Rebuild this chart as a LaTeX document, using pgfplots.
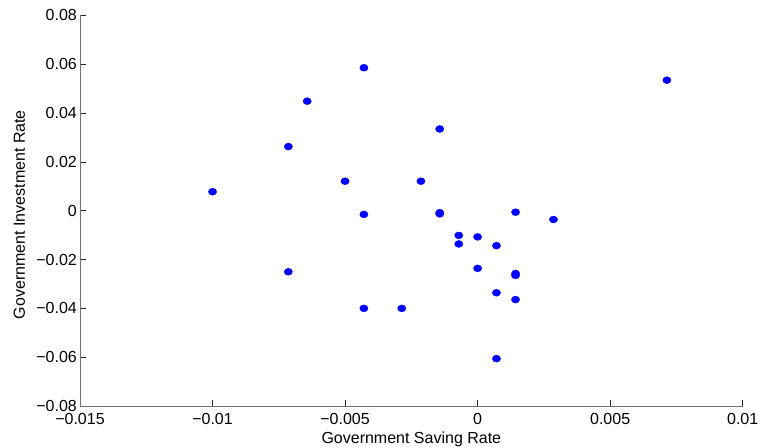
\documentclass[border=0pt]{standalone}
\usepackage{fontspec}
\setmainfont{Liberation Sans}
\usepackage{pgfplots}
\pgfplotsset{compat=1.18}

\begin{document}
\begin{tikzpicture}[x=1pt,y=1pt]
\begin{axis}[
  at={(0,0)}, anchor=south west,
  scale only axis,
  width=662.7pt, height=390.5pt,
  xmin=-0.015, xmax=0.01,
  ymin=-0.08, ymax=0.08,
  scaled ticks=false,
  axis lines*=left,
  axis line style={draw=black!55, line width=0.9pt},
  tick align=inside,
  major tick length=6pt,
  tick style={draw=black!85, line width=0.8pt},
  xtick={-0.015,-0.01,-0.005,0,0.005,0.01},
  xticklabels={−0.015,−0.01,−0.005,0,0.005,0.01},
  ytick={-0.08,-0.06,-0.04,-0.02,0,0.02,0.04,0.06,0.08},
  yticklabels={−0.08,−0.06,−0.04,−0.02,0,0.02,0.04,0.06,0.08},
  tick label style={font=\fontsize{16}{19}\selectfont, inner sep=0pt},
  xticklabel style={anchor=north, yshift=-7pt},
  yticklabel style={anchor=east, xshift=-3pt},
  label style={font=\fontsize{16}{19}\selectfont, inner sep=0pt},
  xlabel={Government Saving Rate},
  xlabel style={at={(axis description cs:0.5,0)}, anchor=base, yshift=-37.5pt},
  ylabel={Government Investment Rate},
  ylabel style={at={(axis description cs:0,0.49)}, anchor=base, rotate=0, yshift=55pt},
  clip=false,
]
% one marker per observation
\addplot[only marks, mark=*, mark size=3.5pt,
         mark options={xscale=1.18, fill=blue, draw=blue}, color=blue]
  table[row sep=\\] {
  x y \\
  -0.01000  0.0078 \\
  -0.00714  0.0263 \\
  -0.00643  0.0449 \\
  -0.00429  0.0586 \\
  -0.00143  0.0335 \\
  -0.00500  0.0121 \\
  -0.00214  0.0121 \\
  -0.00429 -0.0015 \\
  -0.00143 -0.0008 \\
  -0.00143 -0.0013 \\
  -0.00071 -0.0101 \\
  -0.00071 -0.0136 \\
   0.00000 -0.0107 \\
   0.00000 -0.0236 \\
  -0.00714 -0.0250 \\
  -0.00429 -0.0400 \\
  -0.00286 -0.0400 \\
   0.00071 -0.0143 \\
   0.00071 -0.0336 \\
   0.00071 -0.0606 \\
   0.00143 -0.0006 \\
   0.00143 -0.0257 \\
   0.00143 -0.0265 \\
   0.00143 -0.0364 \\
   0.00286 -0.0036 \\
   0.00714  0.0535 \\
  };
\end{axis}
\pgfresetboundingbox
\path[use as bounding box] (-80pt,-41pt) rectangle (682pt,406pt);
\end{tikzpicture}
\end{document}
